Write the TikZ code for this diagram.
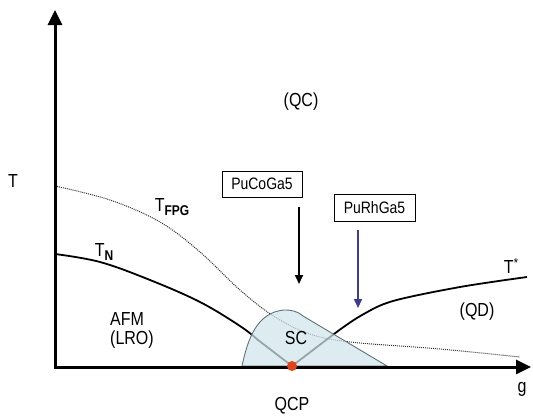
\documentclass[tikz,border=0pt]{standalone}
\usepackage{fontspec}
\setmainfont{Liberation Sans}
\usetikzlibrary{arrows.meta}
\definecolor{domefill}{HTML}{CFE5EA}
\definecolor{domeedge}{HTML}{5E7378}
\definecolor{arrowblue}{HTML}{3C3C96}
\definecolor{qcpred}{HTML}{E04418}
\tikzset{
  lbl/.style={inner sep=0pt, font=\fontsize{16}{18}\selectfont},
  boxlbl/.style={draw, line width=0.8pt, inner sep=0pt, minimum height=26pt, font=\fontsize{14}{16}\selectfont},
  axisline/.style={line width=3pt, -{Triangle[length=15pt,width=14pt]}},
  curve/.style={line width=1.8pt},
  fpg/.style={line width=1pt, densely dotted, black!80},
  samplearrow/.style={line width=2pt, -{Triangle[length=9pt,width=8pt]}},
}
\newcommand{\vs}[1]{\scalebox{1}[1.18]{#1}}
\newcommand{\sbb}[1]{\raisebox{-0.45ex}{\fontsize{12}{12}\selectfont\textbf{#1}}}
\begin{document}
\begin{tikzpicture}[x=1pt,y=-1pt]
\useasboundingbox (0,0) rectangle (533,416);
% curves
\draw[fpg] plot[smooth,tension=0.6] coordinates {(55,186) (110,200) (160,222) (200,252) (240,290) (275,317) (310,334) (350,342) (440,349) (520,357)};
\draw[curve] plot[smooth,tension=0.6] coordinates {(55,254) (100,262) (150,280) (200,302) (240,326) (258,340)} -- (292,366);
\coordinate (qcp) at (292,366);
\draw[curve] (qcp) -- (338,331) plot[smooth,tension=0.55] coordinates {(338,331) (362,315) (393,301) (460,287) (527,277)};
% dome
\draw[domeedge, line width=0.9pt, fill=domefill, fill opacity=0.72]
  (242,366) to[out=78,in=185] (284,310) to[out=0,in=140] (303,316) -- (387,366) -- cycle;
% axes
\coordinate (origin) at (55,367);
\coordinate (ytip) at (55,10);
\coordinate (xtip) at (531,367);
\draw[axisline] ([yshift=-1.5pt]origin) -- (ytip);
\draw[axisline] ([xshift=-1.5pt]origin) -- (xtip);
% QCP
\fill[qcpred] (qcp) circle (5pt);
% labels
\node[lbl] (tlab) at (13,181) {\vs{T}};
\node[lbl] (glab) at (522,389) {\vs{g}};
\node[lbl] (qcplab) at (292,406) {\vs{QCP}};
\node[lbl] (qc) at (301,102) {\vs{(QC)}};
\node[lbl] (qd) at (477,312) {\vs{(QD)}};
\node[lbl] (sc) at (296,338) {\vs{SC}};
\node[lbl, anchor=west] (afm) at (110,319) {\vs{AFM}};
\node[lbl, anchor=west] (lro) at (110,340) {\vs{(LRO)}};
\node[lbl] (tn) at (104,252) {\vs{T\sbb{N}}};
\node[lbl] (tfpg) at (172,207) {\vs{T\sbb{FPG}}};
\node[lbl] (tstar) at (511,266) {\vs{T\raisebox{0.55ex}{\fontsize{11}{11}\selectfont *}}};
% sample boxes and arrows
\node[boxlbl, minimum width=80pt] (puco) at (262,184) {\vs{PuCoGa5}};
\node[boxlbl, minimum width=81pt, minimum height=27pt] (purh) at (374.5,207.5) {\vs{PuRhGa5}};
\coordinate (costart) at (299,207);
\coordinate (cotip) at (299,284);
\coordinate (rhstart) at (358,230);
\coordinate (rhtip) at (358,308);
\draw[samplearrow] (costart) -- (cotip);
\draw[samplearrow, arrowblue] (rhstart) -- (rhtip);
\end{tikzpicture}
\end{document}
